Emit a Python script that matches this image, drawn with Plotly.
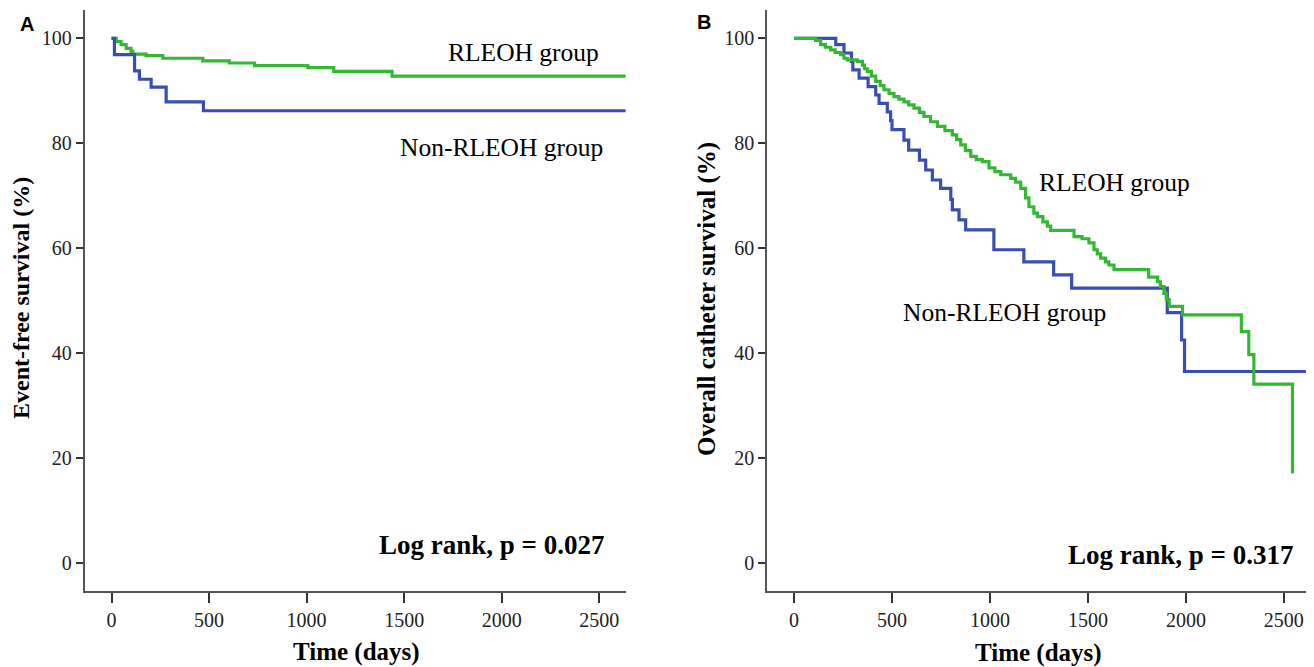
import plotly.graph_objects as go

# page body has an 8px margin, so the figure is drawn 8px in from the corner
OFF = 8
W, H = 1306, 659

# ---------- Data ----------
# Panel A: event-free survival
a_rleoh_days = [0, 24, 49, 75, 100, 109, 177, 263, 468, 604, 733, 1006, 1139, 1438, 2635]
a_rleoh_surv = [100, 99.4, 98.8, 98.1, 97.5, 97.0, 96.7, 96.2, 95.7, 95.3, 94.8, 94.4, 93.7, 92.8, 92.8]

a_non_days = [0, 15, 118, 143, 203, 280, 471, 2635]
a_non_surv = [100, 96.9, 93.8, 92.2, 90.7, 87.9, 86.2, 86.2]

# Panel B: overall catheter survival
b_rleoh_days = [0, 102, 110, 136, 160, 187, 210, 238, 255, 272, 323, 349, 360, 374, 395,
                417, 440, 459, 485, 510, 535, 561, 585, 612, 640, 663, 697, 732, 770,
                808, 830, 851, 875, 902, 930, 961, 995, 1025, 1055, 1106, 1130, 1157,
                1182, 1199, 1224, 1242, 1270, 1293, 1310, 1429, 1470, 1505, 1531, 1548,
                1565, 1590, 1607, 1633, 1810, 1856, 1870, 1888, 1900, 1915, 1983, 2283,
                2321, 2347, 2544]
b_rleoh_surv = [100, 100, 99.6, 98.8, 98.3, 97.8, 97.3, 96.9, 96.2, 95.9, 95.6, 94.9, 94.2,
                93.7, 92.8, 91.8, 91.0, 90.2, 89.5, 88.9, 88.4, 87.9, 87.3, 86.7, 85.9,
                85.1, 84.1, 83.2, 82.4, 81.6, 80.7, 79.7, 78.6, 77.5, 76.9, 76.5, 75.3,
                74.6, 74.0, 73.3, 72.6, 71.4, 69.6, 67.9, 66.7, 66.0, 65.0, 64.2, 63.4,
                62.2, 61.8, 61.0, 59.7, 58.9, 58.1, 57.4, 56.8, 55.9, 54.5, 53.6, 52.7,
                51.4, 50.2, 48.9, 47.3, 44.1, 39.7, 34.1, 17.1]

b_non_days = [0, 213, 255, 293, 300, 332, 378, 417, 434, 476, 493, 500, 561, 585, 640, 672,
              706, 748, 800, 808, 842, 876, 1020, 1173, 1325, 1417, 1905, 1978, 1993, 2640]
b_non_surv = [100, 98.8, 97.2, 95.6, 94.0, 92.4, 90.8, 89.2, 87.6, 86.0, 84.3, 82.6, 80.6,
              78.7, 76.8, 74.9, 73.0, 71.4, 69.3, 67.3, 65.4, 63.5, 59.7, 57.4, 54.9, 52.4,
              47.7, 42.5, 36.5, 36.5]

x_ticks = [0, 500, 1000, 1500, 2000, 2500]
y_ticks = [0, 20, 40, 60, 80, 100]

GREEN = "#34B834"
BLUE = "#3A4DB0"
SERIF = "Liberation Serif, Times New Roman, serif"
SANS = "Liberation Sans, Arial, sans-serif"


def px(x):
    return (x - OFF) / W


def py(y):
    return 1 - (y - OFF) / H


fig = go.Figure()
fig.add_trace(go.Scatter(x=a_rleoh_days, y=a_rleoh_surv, mode="lines", line_shape="hv",
                         line=dict(color=GREEN, width=3.2), xaxis="x", yaxis="y", showlegend=False))
fig.add_trace(go.Scatter(x=a_non_days, y=a_non_surv, mode="lines", line_shape="hv",
                         line=dict(color=BLUE, width=3.2), xaxis="x", yaxis="y", showlegend=False))
fig.add_trace(go.Scatter(x=b_non_days, y=b_non_surv, mode="lines", line_shape="hv",
                         line=dict(color=BLUE, width=3.2), xaxis="x2", yaxis="y2", showlegend=False))
fig.add_trace(go.Scatter(x=b_rleoh_days, y=b_rleoh_surv, mode="lines", line_shape="hv",
                         line=dict(color=GREEN, width=3.2), xaxis="x2", yaxis="y2", showlegend=False))

x_common = dict(range=[-138, 2637], tickvals=x_ticks, ticks="outside", ticklen=10,
                tickwidth=1.5, tickcolor="#333", showline=True, linecolor="#555",
                linewidth=1.5, showgrid=False, zeroline=False,
                tickfont=dict(family=SERIF, size=20, color="#222"))
y_common = dict(range=[-5.34, 105.4], tickvals=y_ticks, ticks="outside", ticklen=7,
                tickwidth=1.5, tickcolor="#333", showline=True, linecolor="#555",
                linewidth=1.5, showgrid=False, zeroline=False,
                tickfont=dict(family=SERIF, size=20, color="#222"))

ydom = [py(591), py(10)]
fig.update_layout(
    width=W, height=H,
    margin=dict(l=0, r=0, t=0, b=0),
    paper_bgcolor="white", plot_bgcolor="white",
    xaxis=dict(domain=[px(84.6), px(626)], anchor="y", **x_common),
    yaxis=dict(domain=ydom, anchor="x", **y_common),
    xaxis2=dict(domain=[px(767), px(1310.7)], anchor="y2", **x_common),
    yaxis2=dict(domain=ydom, anchor="x2", **y_common),
)

ann = []


def add(text, x, y, size, bold=False, xanchor="center", angle=0, family=SERIF):
    t = f"<b>{text}</b>" if bold else text
    ann.append(dict(text=t, x=px(x), y=py(y), xref="paper", yref="paper", showarrow=False,
                    xanchor=xanchor, yanchor="middle", textangle=angle,
                    font=dict(family=family, size=size, color="#000")))


# panel letters
add("A", 27, 24.5, 20, bold=True, family=SANS)
add("B", 704, 22.5, 20, bold=True, family=SANS)

# panel A labels
add("RLEOH group", 601, 52, 25.5, xanchor="right")
add("Non-RLEOH group", 605, 147, 25.5, xanchor="right")
add("Log rank, p = 0.027", 606, 545, 27, bold=True, xanchor="right")
# panel B labels
add("RLEOH group", 1192, 183, 25.5, xanchor="right")
add("Non-RLEOH group", 1108, 313, 25.5, xanchor="right")
add("Log rank, p = 0.317", 1295, 555, 27, bold=True, xanchor="right")

# axis titles
add("Time (days)", 356, 652, 25, bold=True)
add("Time (days)", 1038, 653, 25, bold=True)
add("Event-free survival (%)", 21, 298, 24, bold=True, angle=-90)
add("Overall catheter survival (%)", 707, 299, 25, bold=True, angle=-90)

fig.update_layout(annotations=ann)

fig.write_html("out.html")
